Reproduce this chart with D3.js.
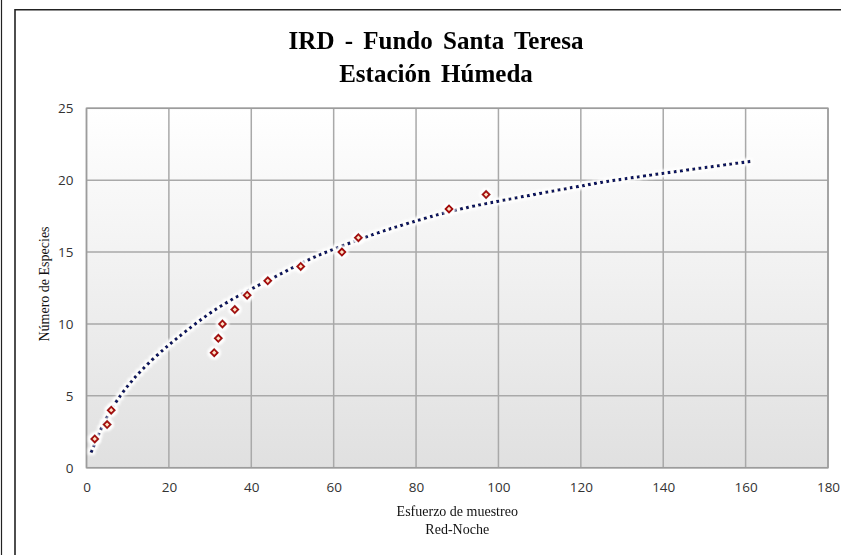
<!DOCTYPE html>
<html>
<head>
<meta charset="utf-8">
<script src="https://cdn.jsdelivr.net/npm/d3@7"></script>
<style>
  body { margin: 0; background: #fff; }
  svg { display: block; }
</style>
</head>
<body>
<script>
// datos
var esfuerzo = [2, 5, 6, 31, 32, 33, 36, 39, 44, 52, 62, 66, 88, 97];
var especies = [2, 3, 4, 8, 9, 10, 11, 12, 13, 14, 15, 16, 18, 19];

// linea de tendencia (puntos leidos sobre la curva punteada)
var tendX = [1.1, 4.5, 8.5, 11.8, 15.8, 19.9, 23.9, 30.4, 38.1, 46.2, 54.2, 59.9, 70.4, 78.1, 88.2, 100, 119.8, 129.1, 161.8];
var tendY = [1.04, 3.43, 5.17, 6.33, 7.49, 8.53, 9.45, 10.9, 12.17, 13.33, 14.55, 15.19, 16.34, 17.0, 17.87, 18.55, 19.59, 20.06, 21.33];

var xTicks = [0, 20, 40, 60, 80, 100, 120, 140, 160, 180];
var yTicks = [0, 5, 10, 15, 20, 25];

var width = 841;
var height = 555;

var svg = d3.select("body").append("svg")
  .attr("width", width)
  .attr("height", height);

var defs = svg.append("defs");

var grad = defs.append("linearGradient")
  .attr("id", "fondo")
  .attr("x1", 0).attr("y1", 0).attr("x2", 0).attr("y2", 1);
grad.append("stop").attr("offset", "0%").attr("stop-color", "#ffffff");
grad.append("stop").attr("offset", "100%").attr("stop-color", "#e0e0e0");

// halo blanco alrededor de la linea y los puntos
var glow = defs.append("filter").attr("id", "halo")
  .attr("x", "-20%").attr("y", "-20%").attr("width", "140%").attr("height", "140%");
glow.append("feMorphology").attr("in", "SourceAlpha").attr("operator", "dilate").attr("radius", 1.8).attr("result", "grueso");
glow.append("feGaussianBlur").attr("in", "grueso").attr("stdDeviation", 1).attr("result", "borroso");
glow.append("feFlood").attr("flood-color", "#ffffff").attr("result", "blanco");
glow.append("feComposite").attr("in", "blanco").attr("in2", "borroso").attr("operator", "in").attr("result", "brillo");
var merge = glow.append("feMerge");
merge.append("feMergeNode").attr("in", "brillo");
merge.append("feMergeNode").attr("in", "SourceGraphic");

// marcos exteriores
svg.append("line")
  .attr("x1", 1.5).attr("x2", 1.5).attr("y1", 0).attr("y2", height)
  .attr("stroke", "#222").attr("stroke-width", 1.2);
svg.append("path")
  .attr("d", "M15," + height + "V9.8H" + width)
  .attr("fill", "none")
  .attr("stroke", "#222").attr("stroke-width", 1.6);

var pIzq = 86.5, pDer = 828, pSup = 108.3, pInf = 467.7;

var x = d3.scaleLinear().domain([0, 180]).range([pIzq, pDer]);
var y = d3.scaleLinear().domain([0, 25]).range([pInf, pSup]);

svg.append("rect")
  .attr("x", pIzq).attr("y", pSup)
  .attr("width", pDer - pIzq).attr("height", pInf - pSup)
  .attr("fill", "url(#fondo)");

// rejilla
svg.append("g")
  .selectAll("line")
  .data(xTicks)
  .enter().append("line")
  .attr("x1", function (d) { return x(d); })
  .attr("x2", function (d) { return x(d); })
  .attr("y1", pSup).attr("y2", pInf)
  .attr("stroke", "#a9a9a9").attr("stroke-width", 1.5);

svg.append("g")
  .selectAll("line")
  .data(yTicks)
  .enter().append("line")
  .attr("x1", pIzq).attr("x2", pDer)
  .attr("y1", function (d) { return y(d); })
  .attr("y2", function (d) { return y(d); })
  .attr("stroke", "#a9a9a9").attr("stroke-width", 1.5);

svg.append("rect")
  .attr("x", pIzq).attr("y", pSup)
  .attr("width", pDer - pIzq).attr("height", pInf - pSup)
  .attr("fill", "none")
  .attr("stroke", "#9c9c9c").attr("stroke-width", 1.5);

// ejes (solo etiquetas)
var ejeX = svg.append("g")
  .attr("transform", "translate(0," + pInf + ")")
  .call(d3.axisBottom(x).tickValues(xTicks).tickSize(0).tickPadding(15));
var ejeY = svg.append("g")
  .attr("transform", "translate(" + pIzq + ",0)")
  .call(d3.axisLeft(y).tickValues(yTicks).tickSize(0).tickPadding(13));

[ejeX, ejeY].forEach(function (g) {
  g.select(".domain").remove();
  g.selectAll("text")
    .attr("fill", "#333")
    .style("font-family", "'Open Sans', sans-serif")
    .style("font-size", "13.5px");
});

// tendencia
var linea = d3.line()
  .x(function (d) { return x(d[0]); })
  .y(function (d) { return y(d[1]); })
  .curve(d3.curveBasis);

var tend = tendX.map(function (v, i) { return [v, tendY[i]]; });

svg.append("g")
  .attr("filter", "url(#halo)")
  .append("path")
  .attr("d", linea(tend))
  .attr("fill", "none")
  .attr("stroke", "#0a1860")
  .attr("stroke-width", 3.3)
  .attr("stroke-dasharray", "3,3.2");

// puntos
var puntos = esfuerzo.map(function (v, i) { return { x: v, y: especies[i] }; });
var rombo = d3.symbol().type(d3.symbolSquare).size(25);

svg.append("g")
  .attr("filter", "url(#halo)")
  .selectAll("path")
  .data(puntos)
  .enter().append("path")
  .attr("d", rombo)
  .attr("transform", function (d) { return "translate(" + x(d.x) + "," + y(d.y) + ") rotate(45)"; })
  .attr("fill", "#fde3c6")
  .attr("stroke", "#a50e0e")
  .attr("stroke-width", 2);

// titulos
var titulo = svg.append("text")
  .attr("text-anchor", "middle")
  .style("font-family", "'Liberation Serif', 'Times New Roman', serif")
  .style("font-weight", "bold")
  .style("font-size", "25px")
  .style("word-spacing", "4px")
  .attr("fill", "#000");
titulo.append("tspan").attr("x", 436).attr("y", 49).text("IRD - Fundo Santa Teresa");
titulo.append("tspan").attr("x", 436).attr("y", 82).text("Estación Húmeda");

var tx = svg.append("text")
  .attr("text-anchor", "middle")
  .style("font-family", "'Liberation Serif', 'Times New Roman', serif")
  .style("font-size", "14px")
  .attr("fill", "#111");
tx.append("tspan").attr("x", (pIzq + pDer) / 2).attr("y", 516).text("Esfuerzo de muestreo");
tx.append("tspan").attr("x", (pIzq + pDer) / 2).attr("y", 534).text("Red-Noche");

svg.append("text")
  .attr("transform", "translate(49," + ((pSup + pInf) / 2 - 4) + ") rotate(-90)")
  .attr("text-anchor", "middle")
  .style("font-family", "'Liberation Serif', 'Times New Roman', serif")
  .style("font-size", "14px")
  .attr("fill", "#111")
  .text("Número de Especies");
</script>
</body>
</html>
